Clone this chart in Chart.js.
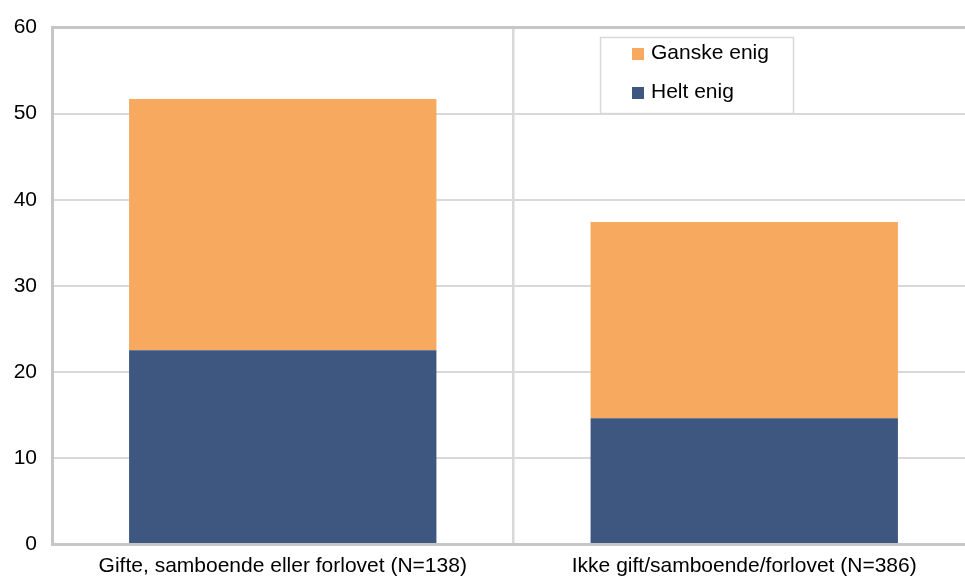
<!DOCTYPE html>
<html>
<head>
<meta charset="utf-8">
<script src="https://cdn.jsdelivr.net/npm/chart.js@4/dist/chart.umd.min.js"></script>
<style>
  html, body { margin: 0; padding: 0; background: #fff; overflow: hidden; }
  #wrap { width: 975px; height: 579px; position: relative; }
</style>
</head>
<body>
<div id="wrap"><canvas id="chart"></canvas></div>
<script>
const categories = ['Gifte, samboende eller forlovet (N=138)', 'Ikke gift/samboende/forlovet (N=386)'];
const heltEnig = [22.5, 14.6];
const ganskeEnig = [29.2, 22.8];
const yTicks = [0, 10, 20, 30, 40, 50, 60];

const FONT = { family: 'Liberation Sans, Arial, sans-serif', size: 21 };

// legend drawn as a framed box inside the plot area, top item = last dataset
const boxLegend = {
  id: 'boxLegend',
  afterDraw(chart) {
    const ctx = chart.ctx;
    const x = 600, y = 37, w = 193, h = 76;
    ctx.save();
    ctx.fillStyle = '#fff';
    ctx.fillRect(x, y, w, h);
    ctx.strokeStyle = '#d9d9d9';
    ctx.lineWidth = 1.5;
    ctx.strokeRect(x + 0.5, y + 0.5, w, h);
    ctx.font = FONT.size + 'px ' + FONT.family;
    ctx.textBaseline = 'middle';
    const items = chart.data.datasets.slice().reverse();
    items.forEach((ds, i) => {
      const cy = y + 16 + i * 39;
      ctx.fillStyle = ds.backgroundColor;
      ctx.fillRect(x + 32, cy - 5, 12, 12);
      ctx.fillStyle = '#000';
      ctx.fillText(ds.label, x + 51, cy);
    });
    ctx.restore();
  }
};

new Chart(document.getElementById('chart'), {
  type: 'bar',
  data: {
    labels: categories,
    datasets: [
      { label: 'Helt enig', data: heltEnig, backgroundColor: '#3e5781' },
      { label: 'Ganske enig', data: ganskeEnig, backgroundColor: '#f6a95f' }
    ]
  },
  options: {
    responsive: true,
    maintainAspectRatio: false,
    animation: false,
    layout: { padding: { top: 24, right: 0, left: 0, bottom: 0 } },
    datasets: { bar: { categoryPercentage: 1, barPercentage: 0.666 } },
    plugins: { legend: { display: false }, tooltip: { enabled: false } },
    scales: {
      x: {
        stacked: true,
        offset: true,
        grid: { offset: true, color: '#d9d9d9', lineWidth: 2.5, drawTicks: false },
        border: { color: '#c6c6c6', width: 3 },
        ticks: { color: '#000', font: FONT, padding: 10, maxRotation: 0 },
        afterFit(scale) { scale.height = 35; }
      },
      y: {
        stacked: true,
        min: 0,
        max: 60,
        afterBuildTicks(scale) { scale.ticks = yTicks.map(v => ({ value: v })); },
        grid: {
          drawTicks: false,
          color: c => c.tick && c.tick.value === 60 ? '#c6c6c6' : '#d9d9d9',
          lineWidth: c => c.tick && c.tick.value === 60 ? 3 : 2
        },
        border: { color: '#c6c6c6', width: 3 },
        ticks: { color: '#000', font: FONT, padding: 15 },
        afterFit(scale) { scale.width = 52; }
      }
    }
  },
  plugins: [boxLegend]
});
</script>
</body>
</html>
